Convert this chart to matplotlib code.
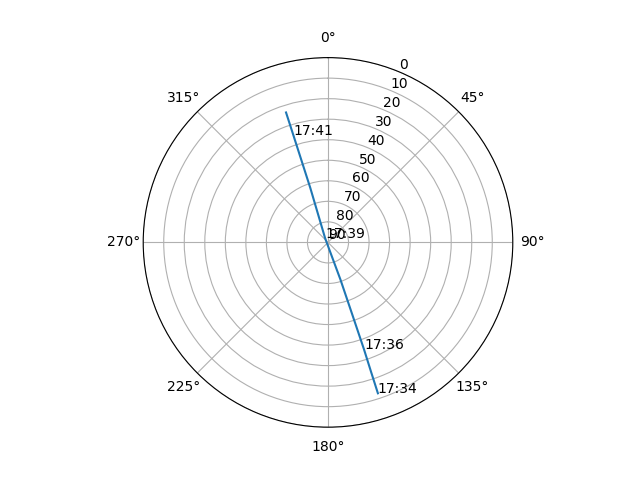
import numpy as np
import matplotlib
matplotlib.use("Agg")
import matplotlib.pyplot as plt

# satellite pass: azimuth (deg), elevation (deg)
times = ["17:34", "17:35", "17:36", "17:37", "17:38", "17:39", "17:40", "17:41", "17:42"]
az = [161.7, 161.6, 161.4, 161.4, 161.5, 325.0, 342.0, 342.1, 342.1]
el = [12.6, 23.5, 35.1, 53.0, 71.0, 87.6, 62.0, 34.8, 23.5]
labelled = ["17:34", "17:36", "17:39", "17:41"]

fig = plt.figure(figsize=(6.4, 4.8), dpi=100)
ax = fig.add_subplot(111, projection="polar")
ax.set_theta_zero_location("N")
ax.set_theta_direction(-1)

ax.plot(np.radians(az), el)
for t, a, e in zip(times, az, el):
    if t in labelled:
        ax.text(np.radians(a), e, t)

ax.set_yticks(range(0, 91, 10))
ax.set_ylim(90, 0)

plt.savefig("out.png")
